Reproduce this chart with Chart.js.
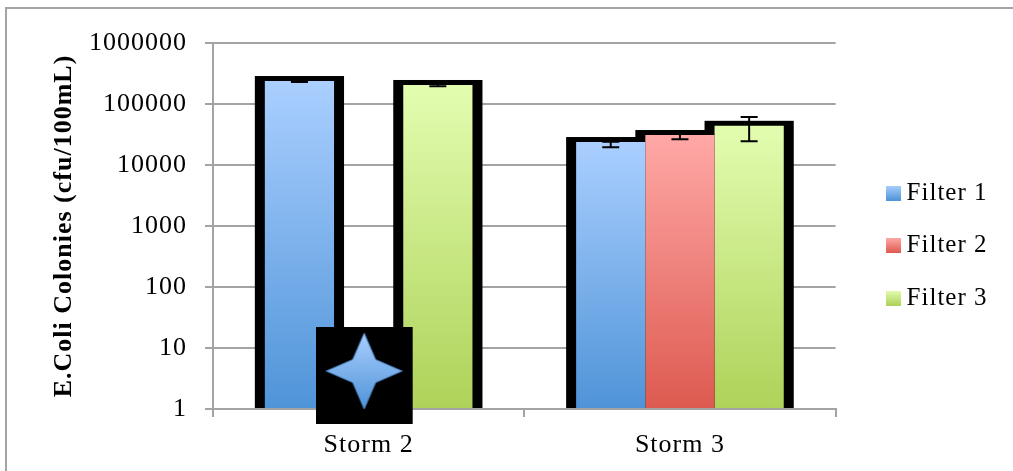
<!DOCTYPE html>
<html>
<head>
<meta charset="utf-8">
<style>
  body { margin: 0; background: #fff; }
  canvas { display: block; }
</style>
</head>
<body>
<canvas id="chart" width="1013" height="471"></canvas>
<script src="https://cdn.jsdelivr.net/npm/chart.js@4"></script>
<script>
// =================== DATA ===================
const categories = ["Storm 2", "Storm 3"];
const yTicks = [1, 10, 100, 1000, 10000, 100000, 1000000];

const filter1 = [238000, 23800];
const filter2 = [null, 31000];
const filter3 = [205000, 43900];
const starMarker = [3.54, null];

const filter1Low = [229000, 19500];
const filter1High = [262000, 24000];
const filter2Low = [null, 26500];
const filter2High = [null, 36000];
const filter3Low = [195000, 24500];
const filter3High = [212000, 61000];

const errors = [
  { low: filter1Low, high: filter1High },
  { low: filter2Low, high: filter2High },
  { low: filter3Low, high: filter3High },
];

// =================== STYLES ===================
const GRAY = "#a3a3a3";
const SERIF = "'Liberation Serif', serif";
const blueStops = ["#aacfff", "#4f94d8"];
const redStops = ["#ffa8a6", "#dd5a50"];
const greenStops = ["#e3fdb0", "#aed259"];

// bar fill runs from the top of the bar down to the axis
function barGradient(stops) {
  return (c) => {
    const y = c.chart.scales && c.chart.scales.y;
    if (!y || c.raw == null) return stops[1];
    const g = c.chart.ctx.createLinearGradient(0, y.getPixelForValue(c.raw), 0, y.bottom);
    g.addColorStop(0, stops[0]);
    g.addColorStop(1, stops[1]);
    return g;
  };
}

function swatch(stops) {
  const c = document.createElement("canvas");
  c.width = 15;
  c.height = 15;
  const s = c.getContext("2d");
  const g = s.createLinearGradient(0, 0, 0, 15);
  g.addColorStop(0, stops[0]);
  g.addColorStop(1, stops[1]);
  s.fillStyle = g;
  s.fillRect(0, 0, 15, 15);
  return c;
}

// star on a black square, with empty room on the right to sit it left of the category centre
function makeStar() {
  const c = document.createElement("canvas");
  c.width = 106;
  c.height = 97;
  const s = c.getContext("2d");
  s.fillStyle = "#000";
  s.fillRect(0, 0, 97, 97);
  const cx = 48.5, cy = 44, r = 38, w = 11.5;
  const g = s.createLinearGradient(0, cy - r, 0, cy + r);
  g.addColorStop(0, blueStops[0]);
  g.addColorStop(1, blueStops[1]);
  s.beginPath();
  s.moveTo(cx, cy - r);
  s.lineTo(cx + w, cy - w);
  s.lineTo(cx + r, cy);
  s.lineTo(cx + w, cy + w);
  s.lineTo(cx, cy + r);
  s.lineTo(cx - w, cy + w);
  s.lineTo(cx - r, cy);
  s.lineTo(cx - w, cy - w);
  s.closePath();
  s.fillStyle = g;
  s.fill();
  s.strokeStyle = "#4a7ebb";
  s.lineWidth = 1;
  s.stroke();
  return c;
}

// =================== PLUGINS ===================
const pageFrame = {
  id: "pageFrame",
  beforeLayout(chart) {
    chart.ctx.letterSpacing = "1px";
  },
  beforeDraw(chart) {
    const { ctx } = chart;
    ctx.letterSpacing = "1px";
    ctx.save();
    ctx.strokeStyle = GRAY;
    ctx.lineWidth = 2;
    ctx.beginPath();
    ctx.moveTo(6, 471);
    ctx.lineTo(6, 8);
    ctx.lineTo(1013, 8);
    ctx.stroke();
    ctx.restore();
  },
  afterLayout(chart) {
    chart.legend.left += 30;
    chart.legend.right += 30;
    chart.legend.top -= 11.5;
    chart.legend.bottom -= 11.5;
  },
};

// heavy black outline sits behind all the fills
const blackOutline = {
  id: "blackOutline",
  beforeDatasetsDraw(chart) {
    const { ctx } = chart;
    ctx.save();
    ctx.fillStyle = "#000";
    chart.getSortedVisibleDatasetMetas().forEach((meta) => {
      if (meta.type !== "bar") return;
      meta.data.forEach((bar, i) => {
        if (chart.data.datasets[meta.index].data[i] == null) return;
        const left = bar.x - bar.width / 2 - 10;
        ctx.fillRect(left, bar.y - 5, bar.width + 20, bar.base - bar.y + 6);
      });
    });
    ctx.restore();
  },
  // runs just before the star, so the star covers the axis and the rest sits on the bars
  beforeDatasetDraw(chart, args) {
    if (args.meta.type !== "line") return;
    const { ctx, scales } = chart;
    ctx.save();
    ctx.strokeStyle = GRAY;
    ctx.lineWidth = 2;
    ctx.beginPath();
    ctx.moveTo(scales.x.left, scales.y.bottom);
    ctx.lineTo(scales.x.right, scales.y.bottom);
    ctx.stroke();

    ctx.strokeStyle = "#000";
    ctx.lineWidth = 2;
    errors.forEach((err, d) => {
      const meta = chart.getDatasetMeta(d);
      meta.data.forEach((bar, i) => {
        if (err.low[i] == null) return;
        const top = scales.y.getPixelForValue(err.high[i]);
        const bottom = scales.y.getPixelForValue(err.low[i]);
        ctx.beginPath();
        ctx.moveTo(bar.x, top);
        ctx.lineTo(bar.x, bottom);
        ctx.moveTo(bar.x - 8.5, top);
        ctx.lineTo(bar.x + 8.5, top);
        ctx.moveTo(bar.x - 8.5, bottom);
        ctx.lineTo(bar.x + 8.5, bottom);
        ctx.stroke();
      });
    });
    ctx.restore();
  },
};

// =================== CHART ===================
new Chart(document.getElementById("chart"), {
  data: {
    labels: categories,
    datasets: [
      { type: "bar", label: "Filter 1", data: filter1, backgroundColor: barGradient(blueStops), order: 1 },
      { type: "bar", label: "Filter 2", data: filter2, backgroundColor: barGradient(redStops), order: 1 },
      { type: "bar", label: "Filter 3", data: filter3, backgroundColor: barGradient(greenStops), order: 1 },
      {
        type: "line",
        label: "marker",
        data: starMarker,
        showLine: false,
        pointStyle: makeStar(),
        pointRadius: 5,
        clip: false,
        order: 0,
      },
    ],
  },
  options: {
    responsive: false,
    animation: false,
    layout: { padding: { top: 43, left: 0, right: 45.5, bottom: 0 } },
    datasets: { bar: { categoryPercentage: 0.667, barPercentage: 1 } },
    plugins: {
      tooltip: { enabled: false },
      legend: {
        position: "right",
        labels: {
          usePointStyle: true,
          pointStyleWidth: 1,
          boxHeight: 15,
          padding: 27.5,
          color: "#000",
          font: { family: SERIF, size: 25 },
          generateLabels: () => [
            { text: "Filter 1", pointStyle: swatch(blueStops), lineWidth: 0, strokeStyle: "transparent" },
            { text: "Filter 2", pointStyle: swatch(redStops), lineWidth: 0, strokeStyle: "transparent" },
            { text: "Filter 3", pointStyle: swatch(greenStops), lineWidth: 0, strokeStyle: "transparent" },
          ],
        },
      },
    },
    scales: {
      x: {
        offset: true,
        grid: { drawOnChartArea: false, color: GRAY, lineWidth: 2, tickLength: 8, offset: true },
        border: { color: GRAY, width: 2 },
        ticks: { color: "#000", padding: 13, font: { family: SERIF, size: 26 }, maxRotation: 0 },
        afterFit: (s) => { s.height = 62; },
      },
      y: {
        type: "logarithmic",
        min: 1,
        max: 1000000,
        grid: { color: GRAY, lineWidth: 2, tickLength: 8 },
        border: { color: GRAY, width: 2 },
        ticks: { color: "#000", padding: 18, font: { family: SERIF, size: 26 }, autoSkip: false, callback: (v) => String(v) },
        afterBuildTicks: (s) => { s.ticks = yTicks.map((v) => ({ value: v })); },
        afterFit: (s) => { s.width = 213; },
        title: {
          display: true,
          text: "E.Coli Colonies (cfu/100mL)",
          color: "#000",
          padding: { top: 49, bottom: 0 },
          font: { family: SERIF, size: 26, weight: "bold" },
        },
      },
    },
  },
  plugins: [pageFrame, blackOutline],
});
</script>
</body>
</html>
